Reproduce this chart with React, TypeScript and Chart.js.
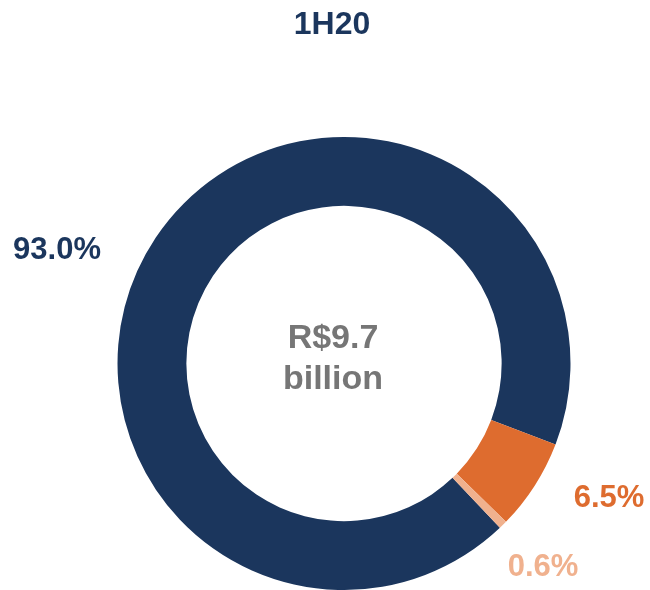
import React, { useEffect, useRef } from "react";
import { Chart, registerables } from "chart.js";

Chart.register(...registerables);

const categories = ["Main", "Second", "Third"];
const values = [93.0, 6.5, 0.6];
const valueLabels = ["93.0%", "6.5%", "0.6%"];
const colors = ["#1B365D", "#DE6C2F", "#F0B18E"];
const titleText = "1H20";
const centerLines = ["R$9.7", "billion"];

const FONT = "'Liberation Sans', Arial, sans-serif";

export default function App() {
  const ref = useRef<HTMLCanvasElement | null>(null);

  useEffect(() => {
    if (!ref.current) return;
    const labelPos = [
      { x: 57, y: 250 },
      { x: 609, y: 498 },
      { x: 543, y: 567 },
    ];
    const textPlugin = {
      id: "texts",
      afterDraw(chart: any) {
        const ctx = chart.ctx;
        ctx.save();
        ctx.textAlign = "center";
        ctx.textBaseline = "middle";
        ctx.fillStyle = colors[0];
        ctx.font = `bold 32px ${FONT}`;
        ctx.fillText(titleText, 332, 25);
        valueLabels.forEach((t, i) => {
          ctx.fillStyle = colors[i];
          ctx.font = `bold 31px ${FONT}`;
          ctx.fillText(t, labelPos[i].x, labelPos[i].y);
        });
        ctx.fillStyle = "#767676";
        ctx.font = `bold 34px ${FONT}`;
        ctx.fillText(centerLines[0], 333, 339);
        ctx.fillText(centerLines[1], 333, 380);
        ctx.restore();
      },
    };
    const chart = new Chart(ref.current, {
      type: "doughnut",
      data: {
        labels: categories,
        datasets: [
          {
            data: values,
            backgroundColor: colors,
            borderWidth: 0,
          },
        ],
      },
      options: {
        responsive: false,
        animation: false,
        cutout: "69.6%",
        rotation: 136.5,
        layout: { padding: { left: 117, right: 79, top: 137, bottom: 0 } },
        plugins: {
          legend: { display: false },
          tooltip: { enabled: false },
          title: { display: false },
        },
      },
      plugins: [textPlugin],
    });
    return () => chart.destroy();
  }, []);

  return (
    <div style={{ position: "fixed", left: 0, top: 0, width: 650, height: 590, background: "#fff" }}>
      <canvas ref={ref} width={650} height={590} style={{ width: 650, height: 590 }} />
    </div>
  );
}
